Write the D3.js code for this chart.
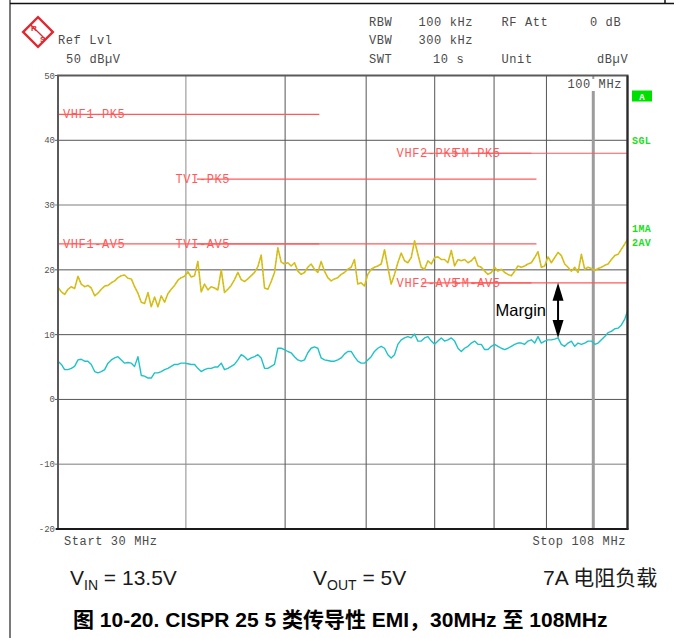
<!DOCTYPE html>
<html><head><meta charset="utf-8">
<script src="https://cdn.jsdelivr.net/npm/d3@7"></script>
<style>
html,body{margin:0;padding:0;background:#fff;}
svg{display:block;}
</style></head><body>
<svg id="chart" width="674" height="638"></svg>
<script>
// Sweep frequencies (MHz) and the two detector traces (dBµV)
const freqMHz = [30.00,30.23,30.45,30.68,30.91,31.14,31.38,31.61,31.85,32.09,
32.33,32.58,32.82,33.07,33.32,33.57,33.82,34.08,34.33,34.59,
34.85,35.11,35.38,35.64,35.91,36.18,36.45,36.73,37.00,37.28,
37.56,37.84,38.13,38.41,38.70,38.99,39.29,39.58,39.88,40.18,
40.48,40.79,41.09,41.40,41.71,42.03,42.34,42.66,42.98,43.31,
43.63,43.96,44.29,44.62,44.96,45.30,45.64,45.98,46.33,46.68,
47.03,47.38,47.74,48.10,48.46,48.82,49.19,49.56,49.93,50.31,
50.68,51.07,51.45,51.84,52.23,52.62,53.01,53.41,53.82,54.22,
54.63,55.04,55.45,55.87,56.29,56.72,57.14,57.57,58.01,58.44,
58.88,59.33,59.77,60.22,60.68,61.13,61.59,62.06,62.53,63.00,
63.47,63.95,64.43,64.92,65.41,65.90,66.40,66.90,67.40,67.91,
68.42,68.94,69.46,69.98,70.51,71.04,71.57,72.11,72.66,73.21,
73.76,74.31,74.87,75.44,76.01,76.58,77.15,77.74,78.32,78.91,
79.51,80.10,80.71,81.31,81.93,82.54,83.16,83.79,84.42,85.06,
85.70,86.34,86.99,87.65,88.31,88.97,89.64,90.32,91.00,91.69,
92.38,93.07,93.77,94.48,95.19,95.91,96.63,97.36,98.09,98.83,
99.58,100.33,101.08,101.84,102.61,103.38,104.16,104.95,105.74,106.53,
107.34,108.00];

// Trace 1: max-hold peak detector
const peakDb = [17.3,16.6,16.2,17.0,17.4,17.1,19.0,17.8,17.4,17.6,
17.2,16.0,16.4,17.0,17.5,17.6,18.0,18.3,18.8,19.1,
19.2,18.7,18.6,17.4,16.4,15.0,14.8,16.5,14.3,15.8,
14.3,16.0,15.0,16.3,17.0,17.6,18.4,18.8,19.0,19.7,
18.9,19.1,21.3,16.6,17.8,16.9,17.4,17.2,16.9,20.0,
16.5,17.0,17.6,18.5,19.6,18.5,18.2,18.6,19.1,19.6,
20.5,22.3,17.2,17.0,18.2,19.6,23.4,21.2,20.9,21.1,
20.6,21.1,19.8,19.3,19.6,20.4,20.9,20.1,19.6,21.3,
19.8,18.8,18.3,18.6,18.8,19.3,19.6,20.1,20.4,21.6,
17.8,18.0,17.5,19.3,20.1,20.4,20.6,20.9,23.1,20.4,
17.8,19.3,21.1,22.6,21.4,21.1,21.9,24.5,22.4,20.4,
20.1,21.4,20.9,21.9,22.0,21.6,21.6,21.1,23.0,20.6,
21.6,21.4,21.6,21.1,21.4,22.0,20.6,20.4,19.8,19.3,
19.6,20.4,19.8,20.1,19.6,19.3,19.1,19.8,20.6,20.4,
20.6,20.9,21.1,21.9,22.8,20.4,20.6,22.0,21.1,21.9,
22.7,22.2,20.9,20.4,19.8,20.4,19.6,22.4,20.1,20.4,
20.2,19.9,20.2,20.4,20.7,20.9,21.6,22.2,22.4,23.2,
24.0,24.7];

// Trace 2: average detector
const avgDb = [5.9,5.4,4.6,4.6,4.8,5.1,6.1,6.2,5.9,5.9,
5.4,4.3,4.1,4.3,4.6,5.6,6.1,6.4,6.6,6.1,
5.6,5.7,5.6,5.1,6.6,3.7,3.6,3.3,3.3,4.1,
4.1,4.3,4.6,4.8,5.1,5.4,5.4,5.6,5.6,5.5,
5.4,5.4,4.8,4.3,4.6,4.8,4.8,5.0,5.0,5.6,
4.6,4.8,5.1,5.4,6.1,6.9,6.6,6.1,6.4,6.6,
6.9,6.4,4.8,4.8,5.1,5.4,7.9,7.9,7.7,7.4,
7.2,6.6,6.1,5.9,6.1,7.2,7.9,8.1,7.9,6.4,
6.1,6.0,5.9,5.9,6.1,6.4,7.0,7.4,7.4,6.6,
5.9,5.6,5.6,6.1,6.6,7.4,7.9,8.2,7.9,6.9,
6.4,6.9,8.5,9.2,9.5,9.7,9.5,10.1,9.0,9.0,
9.5,9.7,9.0,8.5,9.0,9.5,9.0,9.2,9.5,9.0,
7.9,7.4,7.9,8.2,8.7,9.0,8.5,8.5,7.7,7.7,
8.2,8.5,8.2,7.9,7.7,7.9,8.2,8.5,8.7,8.7,
8.5,9.0,9.2,8.7,9.7,8.7,9.0,9.2,9.2,9.3,
9.5,8.5,8.2,8.7,9.0,8.2,8.7,8.5,8.7,9.0,
9.0,8.5,8.7,9.2,9.7,10.3,10.5,10.9,11.0,11.5,
12.4,13.6];

// Axis ticks and grid
const yTicks = [50,40,30,20,10,0,-10,-20];
const xGrid = [40,50,60,70,80,90];
const startMHz = 30, stopMHz = 108;

// CISPR 25 class 5 conducted limit lines
const limitNames = ["VHF1-PK5","VHF1-AV5","TVI-PK5","TVI-AV5","VHF2-PK5","VHF2-AV5","FM-PK5","FM-AV5"];
const limitStart = [30,30,41,41,68,68,76,76];
const limitStop  = [54,54,88,88,87,87,108,108];
const limitLevel = [44,24,34,24,38,18,38,18];

// Marker and margin annotation
const markerMHz = 100;
const marginMHz = 92.38;
const marginLimitDb = 18;

// Instrument header
const headerLeft = ["Ref Lvl", "50 dBµV"];
const headerCol1 = ["RBW","VBW","SWT"];
const headerCol2 = ["100 kHz","300 kHz","10 s"];
const headerCol3 = ["RF Att","","Unit"];
const headerCol4 = ["0 dB","","dBµV"];
const sideTags = ["SGL","1MA","2AV"];

const svg = d3.select("#chart");
svg.append("rect").attr("width",674).attr("height",638).attr("fill","#fff");

const L = 58, R = 627.5, T = 75.5, B = 529;
const x = d3.scaleLog().domain([startMHz, stopMHz]).range([L, R]);
const y = d3.scaleLinear().domain([-20, 50]).range([B, T]);

const mono = "'Liberation Mono','DejaVu Sans Mono',monospace";
const sans = "'Liberation Sans',Arial,'Noto Sans CJK SC',sans-serif";

// page border
svg.append("line").attr("x1",10).attr("x2",10).attr("y1",0).attr("y2",638)
  .attr("stroke","#7a7a7a").attr("stroke-width",2);
svg.append("line").attr("x1",10).attr("x2",674).attr("y1",3.5).attr("y2",3.5)
  .attr("stroke","#111").attr("stroke-width",1.5);
svg.append("line").attr("x1",665).attr("x2",665).attr("y1",0).attr("y2",4)
  .attr("stroke","#111").attr("stroke-width",1.5);

// R&S logo
const logo = svg.append("g").attr("transform","translate(38,32) rotate(45)");
logo.append("rect").attr("x",-10.5).attr("y",-10.5).attr("width",21).attr("height",21)
  .attr("fill","#fff").attr("stroke","#e4262e").attr("stroke-width",2.4);
logo.append("line").attr("x1",-10).attr("x2",10).attr("y1",0).attr("y2",0)
  .attr("stroke","#e4262e").attr("stroke-width",1.3);
svg.append("text").attr("x",31).attr("y",31).text("R")
  .attr("font-family",sans).attr("font-size",8).attr("font-weight","bold").attr("fill","#e4262e");
svg.append("text").attr("x",40).attr("y",42).text("S")
  .attr("font-family",sans).attr("font-size",8).attr("font-weight","bold").attr("fill","#e4262e");

// header text
const hdr = svg.append("g").attr("font-family",mono).attr("font-size",12)
  .attr("letter-spacing",0.6).attr("fill","#4a4a4a");
const rowY = [26, 44, 62.5];
hdr.append("text").attr("x",58).attr("y",rowY[1]).text(headerLeft[0]);
hdr.append("text").attr("x",66).attr("y",rowY[2]).text(headerLeft[1]);
headerCol1.forEach((t,i)=>hdr.append("text").attr("x",369).attr("y",rowY[i]).text(t));
headerCol2.forEach((t,i)=>hdr.append("text").attr("x",i===2?433:418.5).attr("y",rowY[i]).text(t));
headerCol3.forEach((t,i)=>hdr.append("text").attr("x",501.5).attr("y",rowY[i]).text(t));
headerCol4.forEach((t,i)=>hdr.append("text").attr("x",i===2?597:590).attr("y",rowY[i]).text(t));

// grid
const grid = svg.append("g");
grid.selectAll(".hg").data(yTicks).join("line")
  .attr("x1",55).attr("x2",R).attr("y1",d=>y(d)).attr("y2",d=>y(d))
  .attr("stroke",d=>(d===30||d===-10)?"#a8a8a8":"#555")
  .attr("stroke-width",d=>(d===30||d===-10)?1.5:1);
grid.selectAll(".vg").data(xGrid).join("line")
  .attr("x1",d=>x(d)).attr("x2",d=>x(d)).attr("y1",T).attr("y2",B)
  .attr("stroke",d=>(d===40)?"#8a8a8a":"#555").attr("stroke-width",1);

// y tick labels
svg.append("g").attr("font-family",mono).attr("font-size",9).attr("fill","#555")
  .attr("text-anchor","end")
  .selectAll("text").data(yTicks).join("text")
  .attr("x",55).attr("y",d=>y(d)+3).text(d=>d);

// marker line at 100 MHz
svg.append("line").attr("x1",x(markerMHz)).attr("x2",x(markerMHz)).attr("y1",91).attr("y2",B)
  .attr("stroke","#9c9c9c").attr("stroke-width",3);
svg.append("line").attr("x1",x(markerMHz)).attr("x2",x(markerMHz)).attr("y1",T).attr("y2",79)
  .attr("stroke","#9c9c9c").attr("stroke-width",2);
svg.append("text").attr("x",622).attr("y",88).attr("text-anchor","end")
  .attr("font-family",mono).attr("font-size",12).attr("letter-spacing",0.6)
  .attr("fill","#4a4a4a").text(markerMHz + " MHz");

// limit lines and labels
const lim = svg.append("g");
limitNames.forEach((name,i)=>{
  lim.append("line").attr("x1",x(limitStart[i])).attr("x2",x(limitStop[i]))
    .attr("y1",y(limitLevel[i])).attr("y2",y(limitLevel[i]))
    .attr("stroke","#ff5a5a").attr("stroke-width",1.2);
});
limitNames.forEach((name,i)=>{
  const t = lim.append("text").attr("font-family",mono).attr("font-size",12)
    .attr("letter-spacing",0.6).attr("fill","#ff5a5a").attr("y",y(limitLevel[i])+4).text(name);
  const w = t.node().getComputedTextLength();
  t.attr("x", Math.max(L+5, x(limitStart[i]) + 6 - w/2));
});

// traces
const pts = (vals)=>freqMHz.map((f,i)=>[f, vals[i]]);
const line = d3.line().x(d=>x(d[0])).y(d=>y(d[1]));
svg.append("path").attr("d",line(pts(avgDb))).attr("fill","none")
  .attr("stroke","#1fc3c6").attr("stroke-width",1.4).attr("stroke-linejoin","round");
svg.append("path").attr("d",line(pts(peakDb))).attr("fill","none")
  .attr("stroke","#d4c41a").attr("stroke-width",1.6).attr("stroke-linejoin","round");
svg.append("path").attr("d",line(pts(peakDb))).attr("fill","none")
  .attr("stroke","#d9862c").attr("stroke-width",0.7).attr("stroke-dasharray","1,2.5")
  .attr("opacity",0.7);

// plot frame
svg.append("rect").attr("x",L).attr("y",T).attr("width",R-L).attr("height",B-T)
  .attr("fill","none").attr("stroke","#5a5a5a").attr("stroke-width",2);
svg.append("line").attr("x1",56).attr("x2",R+1).attr("y1",B).attr("y2",B)
  .attr("stroke","#1a1a1a").attr("stroke-width",2);
svg.append("line").attr("x1",R).attr("x2",R).attr("y1",T).attr("y2",B)
  .attr("stroke","#2a2a2a").attr("stroke-width",2);

// margin arrow between the FM average limit and the average trace
const mi = freqMHz.indexOf(marginMHz);
const ax = x(marginMHz), ay1 = y(marginLimitDb), ay2 = y(avgDb[mi]);
svg.append("line").attr("x1",ax).attr("x2",ax).attr("y1",ay1+10).attr("y2",ay2-10)
  .attr("stroke","#000").attr("stroke-width",2);
svg.append("path").attr("d",`M${ax},${ay1} L${ax-5.5},${ay1+18} L${ax+5.5},${ay1+18} Z`).attr("fill","#000");
svg.append("path").attr("d",`M${ax},${ay2} L${ax-5.5},${ay2-18} L${ax+5.5},${ay2-18} Z`).attr("fill","#000");
svg.append("text").attr("x",ax-12).attr("y",(ay1+ay2)/2+6).attr("text-anchor","end")
  .attr("font-family",sans).attr("font-size",16.5).attr("fill","#000").text("Margin");

// side status tags
svg.append("rect").attr("x",632).attr("y",90.5).attr("width",20).attr("height",11).attr("fill","#00e000");
svg.append("text").attr("x",642).attr("y",99.5).attr("text-anchor","middle")
  .attr("font-family",mono).attr("font-size",9).attr("font-weight","bold").attr("fill","#fff").text("A");
const tagY = [143.5, 231.5, 246];
svg.append("g").attr("font-family",mono).attr("font-size",10).attr("font-weight","bold")
  .attr("letter-spacing",0.4).attr("fill","#22dd22")
  .selectAll("text").data(sideTags).join("text")
  .attr("x",632).attr("y",(d,i)=>tagY[i]).text(d=>d);

// start / stop labels
const ft = svg.append("g").attr("font-family",mono).attr("font-size",12)
  .attr("letter-spacing",0.6).attr("fill","#4a4a4a");
ft.append("text").attr("x",64).attr("y",545).text("Start " + startMHz + " MHz");
ft.append("text").attr("x",626).attr("y",545).attr("text-anchor","end").text("Stop " + stopMHz + " MHz");

// test conditions
const cond = svg.append("g").attr("font-family",sans).attr("font-size",21).attr("fill","#1a1a1a");
const c1 = cond.append("text").attr("x",70).attr("y",585);
c1.append("tspan").text("V");
c1.append("tspan").attr("font-size",14).attr("dy",5).text("IN");
c1.append("tspan").attr("dy",-5).text(" = 13.5V");
const c2 = cond.append("text").attr("x",313).attr("y",585);
c2.append("tspan").text("V");
c2.append("tspan").attr("font-size",14).attr("dy",5).text("OUT");
c2.append("tspan").attr("dy",-5).text(" = 5V");
cond.append("text").attr("x",543).attr("y",585).text("7A 电阻负载");

// caption
svg.append("text").attr("x",73).attr("y",627)
  .attr("font-family",sans).attr("font-size",21).attr("font-weight","bold").attr("fill","#000")
  .text("图 10-20. CISPR 25 5 类传导性 EMI，30MHz 至 108MHz");
</script>
</body></html>
